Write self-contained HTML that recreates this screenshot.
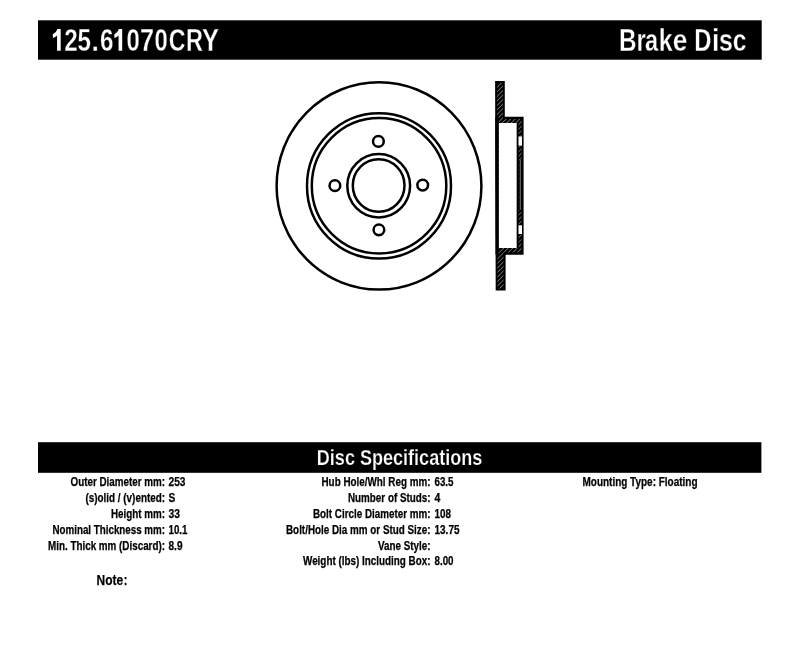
<!DOCTYPE html>
<html><head><meta charset="utf-8">
<style>
html,body{margin:0;padding:0;background:#fff;width:800px;height:655px;overflow:hidden}
svg{display:block;will-change:transform}
text{font-family:"Liberation Sans",sans-serif;font-weight:bold}
</style></head>
<body>
<svg width="800" height="655" viewBox="0 0 800 655">
<defs>
<pattern id="hatch" patternUnits="userSpaceOnUse" width="3.2" height="3.2" patternTransform="rotate(-45)">
<rect width="3.2" height="3.2" fill="#000"/>
<rect x="0" y="0" width="3.2" height="0.8" fill="#7a7a7a"/>
</pattern>
</defs>
<!-- header bar -->
<rect x="38" y="20.3" width="723.7" height="39.4" fill="#000"/>
<text x="53" y="50.5" font-size="31" fill="none" textLength="166" lengthAdjust="spacingAndGlyphs">125.61070CRY</text>
<text x="620" y="51.2" font-size="31" fill="none" textLength="125" lengthAdjust="spacingAndGlyphs">Brake Disc</text>
<g font-size="31" fill="#fff" stroke="#000" stroke-width="0.35">
<text transform="translate(64.16,50.5) scale(0.7826,1)">2</text>
<text transform="translate(77.38,50.5) scale(0.7800,1)">5</text>
<text transform="translate(91.59,50.5) scale(0.8558,1)">.</text>
<text transform="translate(100.11,50.5) scale(0.7810,1)">6</text>
<text transform="translate(126.38,50.5) scale(0.7702,1)">0</text>
<text transform="translate(140.11,50.5) scale(0.8142,1)">7</text>
<text transform="translate(154.58,50.5) scale(0.7702,1)">0</text>
<text transform="translate(168.79,50.5) scale(0.7449,1)">C</text>
<text transform="translate(185.97,50.5) scale(0.7568,1)">R</text>
<text transform="translate(202.09,50.5) scale(0.8199,1)">Y</text>
<text transform="translate(618.97,51.2) scale(0.7843,1)">B</text>
<text transform="translate(636.44,51.2) scale(0.7687,1)">r</text>
<text transform="translate(645.08,51.2) scale(0.7581,1)">a</text>
<text transform="translate(658.84,51.2) scale(0.8034,1)">k</text>
<text transform="translate(672.84,51.2) scale(0.8496,1)">e</text>
<text transform="translate(694.37,51.2) scale(0.7707,1)">D</text>
<text transform="translate(711.97,51.2) scale(0.8567,1)">i</text>
<text transform="translate(718.90,51.2) scale(0.8043,1)">s</text>
<text transform="translate(732.73,51.2) scale(0.7961,1)">c</text>
</g>
<path d="M57.06 50.8V35.6C55.86 36.8 54.46 37.5 52.86 37.9V34.3C54.86 33.4 56.46 31.6 57.36 29.1H60.70V50.8ZM118.56 50.8V35.6C117.36 36.8 115.96 37.5 114.36 37.9V34.3C116.36 33.4 117.96 31.6 118.86 29.1H122.20V50.8Z" fill="#fff"/>


<!-- disc front view -->
<g fill="none" stroke="#000" stroke-width="2.5">
<ellipse cx="379" cy="185.9" rx="102.4" ry="103.7"/>
<ellipse cx="379" cy="185.9" rx="72" ry="72.7"/>
<ellipse cx="379.05" cy="185.75" rx="67.25" ry="67.65"/>
<ellipse cx="378.7" cy="185.7" rx="31.4" ry="31.7"/>
<ellipse cx="378.65" cy="185.5" rx="25.85" ry="26.3"/>
<circle cx="378.4" cy="141.4" r="5.35"/>
<circle cx="378.9" cy="229.8" r="5.35"/>
<circle cx="334.9" cy="185.7" r="5.35"/>
<circle cx="422.7" cy="185.1" r="5.35"/>
</g>

<!-- disc profile -->
<g>
<path d="M495.1 81 H504.8 V116.7 H523.6 V254.7 H505.6 V290.5 H495.7 Z" fill="#000"/>
<path d="M497 83 H503 V119 H521.5 V252.5 H503.5 V288.5 H497.5 Z" fill="url(#hatch)"/>
<rect x="498.7" y="123" width="18.1" height="125" fill="#fff"/>
<path d="M495.3 116.7 H498.7 V254.7 H495.5 Z" fill="#000"/>
<rect x="516.8" y="123" width="1.8" height="125" fill="#000"/>
<rect x="518.5" y="136.5" width="3.5" height="9.1" fill="#fff"/>
<rect x="518.5" y="225.3" width="3.5" height="8.7" fill="#fff"/>
<rect x="518.6" y="160" width="3.6" height="50" fill="#000"/>
<rect x="519.8" y="160" width="1" height="50" fill="#777"/>
</g>

<!-- spec bar -->
<rect x="38" y="442.2" width="723.4" height="30.6" fill="#000"/>
<text x="316.8" y="464.9" font-size="22.5" fill="#fff" stroke="#000" stroke-width="0.25" textLength="165.5" lengthAdjust="spacingAndGlyphs">Disc Specifications</text>

<g font-size="12" fill="#000" stroke="#000" stroke-width="0.25">
<text x="165" y="485.7" text-anchor="end" textLength="94.5" lengthAdjust="spacingAndGlyphs">Outer Diameter mm:</text>
<text x="165" y="501.5" text-anchor="end" textLength="79.5" lengthAdjust="spacingAndGlyphs">(s)olid / (v)ented:</text>
<text x="165" y="518.1" text-anchor="end" textLength="54" lengthAdjust="spacingAndGlyphs">Height mm:</text>
<text x="165" y="534" text-anchor="end" textLength="112.5" lengthAdjust="spacingAndGlyphs">Nominal Thickness mm:</text>
<text x="165" y="549.6" text-anchor="end" textLength="117" lengthAdjust="spacingAndGlyphs">Min. Thick mm (Discard):</text>

<text x="168.5" y="485.7" textLength="17" lengthAdjust="spacingAndGlyphs">253</text>
<text x="168.5" y="501.7" textLength="6.8" lengthAdjust="spacingAndGlyphs">S</text>
<text x="168.5" y="518.1" textLength="11.5" lengthAdjust="spacingAndGlyphs">33</text>
<text x="168.5" y="534" textLength="19" lengthAdjust="spacingAndGlyphs">10.1</text>
<text x="168.5" y="549.6" textLength="14" lengthAdjust="spacingAndGlyphs">8.9</text>

<text x="430.5" y="485.7" text-anchor="end" textLength="109" lengthAdjust="spacingAndGlyphs">Hub Hole/Whl Reg mm:</text>
<text x="430.5" y="501.5" text-anchor="end" textLength="82.5" lengthAdjust="spacingAndGlyphs">Number of Studs:</text>
<text x="430.5" y="517.9" text-anchor="end" textLength="117.5" lengthAdjust="spacingAndGlyphs">Bolt Circle Diameter mm:</text>
<text x="430.5" y="534" text-anchor="end" textLength="144.5" lengthAdjust="spacingAndGlyphs">Bolt/Hole Dia mm or Stud Size:</text>
<text x="430.5" y="549.6" text-anchor="end" textLength="52.5" lengthAdjust="spacingAndGlyphs">Vane Style:</text>
<text x="430.5" y="565.2" text-anchor="end" textLength="127.5" lengthAdjust="spacingAndGlyphs">Weight (lbs) Including Box:</text>

<text x="434.5" y="485.7" textLength="19" lengthAdjust="spacingAndGlyphs">63.5</text>
<text x="434.5" y="501.6" textLength="5.8" lengthAdjust="spacingAndGlyphs">4</text>
<text x="434.5" y="517.9" textLength="16.5" lengthAdjust="spacingAndGlyphs">108</text>
<text x="434.5" y="534" textLength="25" lengthAdjust="spacingAndGlyphs">13.75</text>
<text x="434.5" y="565.2" textLength="19" lengthAdjust="spacingAndGlyphs">8.00</text>

<text x="582.5" y="485.8" textLength="115" lengthAdjust="spacingAndGlyphs">Mounting Type: Floating</text>
</g>
<g font-size="15.2" stroke="#000" stroke-width="0.25"><text x="96.5" y="584.6" textLength="26.6" lengthAdjust="spacingAndGlyphs">Note</text><text x="123.8" y="584.6" textLength="3.6" lengthAdjust="spacingAndGlyphs">:</text></g>
</svg>
</body></html>
